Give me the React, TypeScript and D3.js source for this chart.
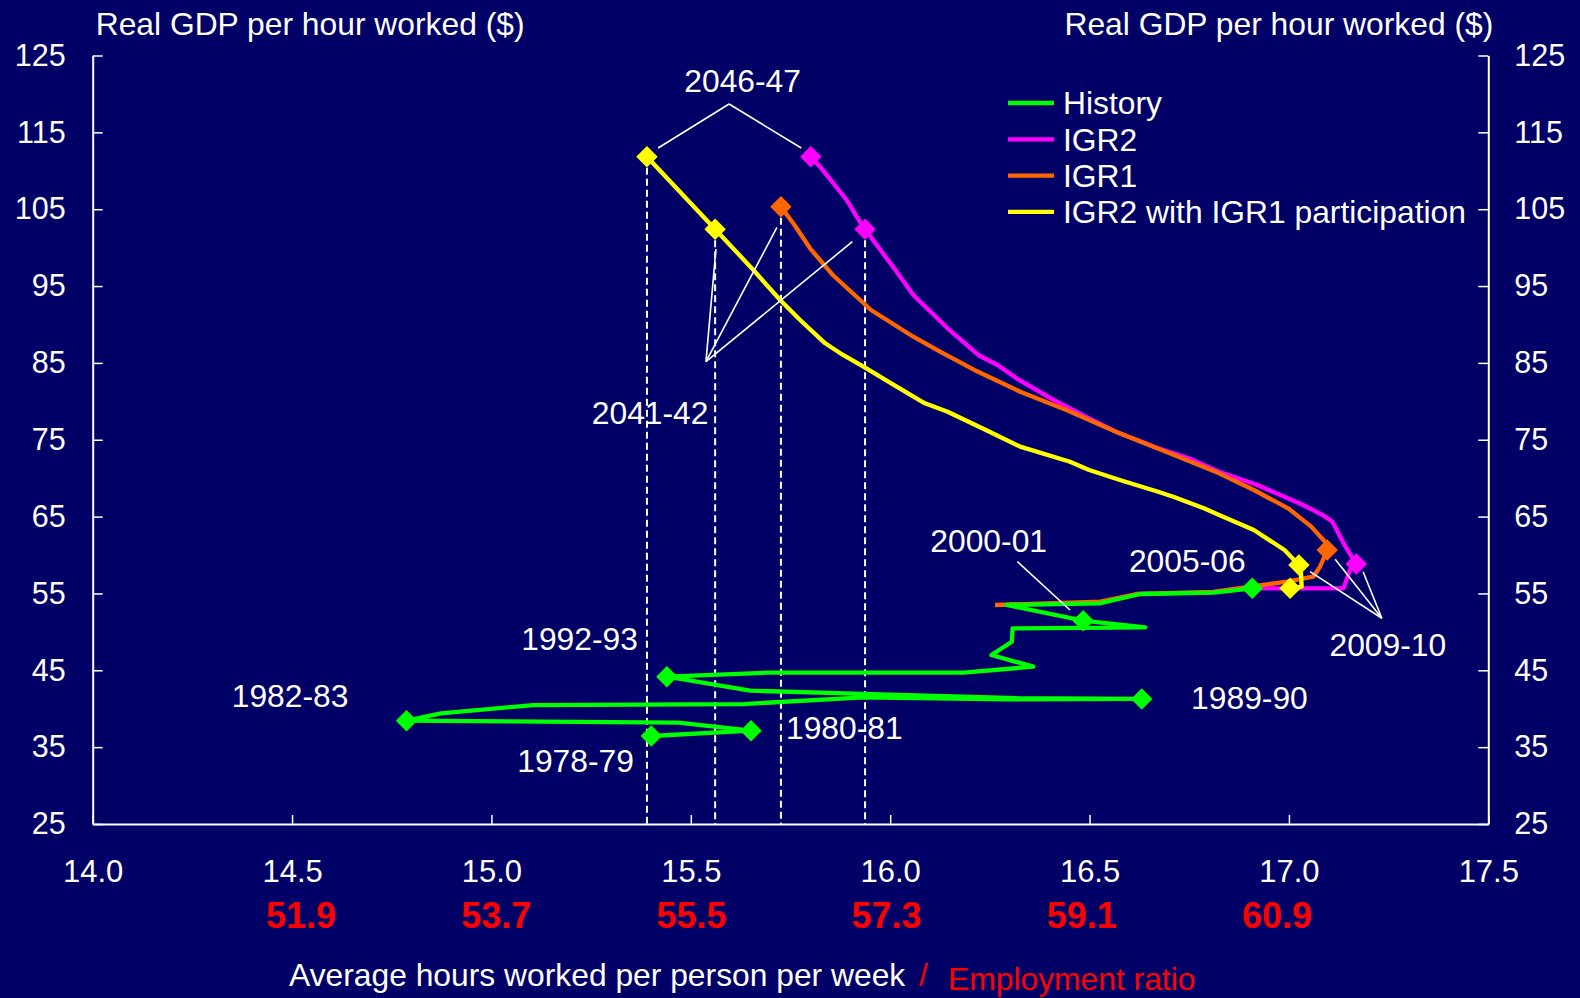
import { useEffect, useRef } from 'react';
import * as d3 from 'd3';

type Pt = [number, number]; // [average hours per person per week, real GDP per hour worked]

const FONT = '"Liberation Sans", Arial, sans-serif';
const BG = '#000066';

const hourTicks = [14.0, 14.5, 15.0, 15.5, 16.0, 16.5, 17.0, 17.5];
const gdpTicks = [25, 35, 45, 55, 65, 75, 85, 95, 105, 115, 125];
const employmentTicks = [51.9, 53.7, 55.5, 57.3, 59.1, 60.9];

// History, 1978-79 to 2005-06
const history: Pt[] = [
  [15.401, 36.45], // 1978-79
  [15.651, 37.14], // 1980-81
  [15.469, 38.18],
  [14.787, 38.44], // 1982-83
  [14.874, 39.4],
  [15.104, 40.48],
  [15.632, 40.61],
  [15.933, 41.49],
  [16.292, 41.23],
  [16.631, 41.27], // 1989-90
  [16.318, 41.36],
  [15.933, 41.92],
  [15.649, 42.35],
  [15.44, 44.17], // 1992-93
  [15.69, 44.69],
  [16.184, 44.69],
  [16.359, 45.47],
  [16.254, 46.99],
  [16.305, 48.72],
  [16.307, 50.46],
  [16.64, 50.59],
  [16.484, 51.46], // 2000-01
  [16.292, 53.5],
  [16.525, 53.72],
  [16.627, 54.93],
  [16.811, 55.1],
  [16.908, 55.67], // 2005-06
];
const historyMarkers = [0, 1, 3, 9, 13, 21, 26];

// IGR2 projection
const igr2: Pt[] = [
  [16.908, 55.67],
  [17.137, 55.67],
  [17.153, 58.05],
  [17.169, 58.83], // 2009-10
  [17.142, 61.08],
  [17.109, 64.34],
  [17.085, 65.2],
  [17.036, 66.5],
  [16.921, 69.11],
  [16.825, 70.84],
  [16.749, 72.59],
  [16.672, 73.89],
  [16.566, 76.05],
  [16.499, 77.79],
  [16.403, 80.39],
  [16.317, 82.99],
  [16.269, 84.73],
  [16.221, 86.03],
  [16.144, 89.5],
  [16.058, 93.84],
  [16.01, 97.31],
  [15.937, 102.38], // 2041-42
  [15.916, 104.03],
  [15.891, 106.2],
  [15.824, 110.53],
  [15.801, 111.83], // 2046-47
];
const igr2Markers = [3, 21, 25];

// IGR1 projection
const igr1: Pt[] = [
  [16.263, 53.5],
  [16.527, 53.93],
  [16.618, 54.93],
  [16.81, 55.2],
  [16.995, 56.53],
  [17.061, 57.18],
  [17.078, 58.48],
  [17.096, 60.65], // 2009-10
  [17.094, 61.53],
  [17.056, 63.69],
  [16.998, 66.08],
  [16.912, 68.46],
  [16.825, 70.63],
  [16.701, 73.24],
  [16.566, 76.05],
  [16.442, 78.87],
  [16.326, 81.25],
  [16.211, 84.08],
  [16.125, 86.46],
  [16.058, 88.41],
  [15.952, 91.88],
  [15.856, 96.44],
  [15.799, 99.91],
  [15.76, 102.94],
  [15.726, 105.33], // 2041-42
];
const igr1Markers = [7, 24];

// IGR2 with IGR1 participation
const igr2Part: Pt[] = [
  [17.003, 55.67],
  [17.032, 55.88],
  [17.03, 57.83],
  [17.025, 58.7], // 2009-10
  [16.989, 60.65],
  [16.912, 63.26],
  [16.825, 65.21],
  [16.787, 66.08],
  [16.71, 67.59],
  [16.672, 68.24],
  [16.576, 69.76],
  [16.499, 71.06],
  [16.451, 72.14],
  [16.326, 74.1],
  [16.24, 76.27],
  [16.144, 78.65],
  [16.087, 79.74],
  [16.01, 82.12],
  [15.933, 84.51],
  [15.875, 86.25],
  [15.837, 87.55],
  [15.774, 90.58],
  [15.724, 93.18],
  [15.657, 97.09],
  [15.561, 102.38], // 2041-42
  [15.39, 111.83], // 2046-47
];
const igr2PartMarkers = [0, 3, 24, 25];

// dashed drop lines: [series, point index]
const dropLines: [Pt[], number][] = [
  [igr2Part, 25],
  [igr2Part, 24],
  [igr1, 24],
  [igr2, 21],
];

// pointer lines: apex and the points it fans out to
const pointers: { apex: Pt; ends: Pt[] }[] = [
  { apex: [15.596, 118.69], ends: [[15.418, 112.96], [15.777, 112.96]] },
  { apex: [15.538, 85.16], ends: [[15.563, 99.82], [15.716, 102.64], [15.905, 100.77]] },
  { apex: [17.233, 51.77], ends: [[17.053, 57.83], [17.116, 59.44], [17.186, 57.83]] },
  { apex: [16.319, 59.13], ends: [[16.451, 52.85]] },
];

const yearLabels: { text: string; at: Pt }[] = [
  { text: '2046-47', at: [15.63, 121.73] },
  { text: '2041-42', at: [15.398, 78.48] },
  { text: '2009-10', at: [17.248, 48.29] },
  { text: '2000-01', at: [16.247, 61.82] },
  { text: '2005-06', at: [16.745, 59.22] },
  { text: '1992-93', at: [15.221, 49.07] },
  { text: '1982-83', at: [14.495, 41.75] },
  { text: '1989-90', at: [16.901, 41.49] },
  { text: '1980-81', at: [15.885, 37.56] },
  { text: '1978-79', at: [15.211, 33.22] },
];

const seriesNames = ['History', 'IGR2', 'IGR1', 'IGR2 with IGR1 participation'];
const seriesColors = ['#00ff00', '#ff00ff', '#ff6600', '#ffff00'];

export default function App() {
  const svgRef = useRef<SVGSVGElement>(null);
  const width = 1580;
  const height = 998;

  useEffect(() => {
    document.body.style.margin = '0';
    document.body.style.background = BG;
    if (!svgRef.current) return;

    const svg = d3.select(svgRef.current);
    svg.selectAll('*').remove();

    svg.append('rect').attr('width', width).attr('height', height).attr('fill', BG);

    const x = d3.scaleLinear().domain([14, 17.5]).range([92.7, 1488.3]);
    const y = d3.scaleLinear().domain([25, 125]).range([824, 55.5]);
    const emp = d3.scaleLinear()
      .domain([employmentTicks[0], employmentTicks[employmentTicks.length - 1]])
      .range([x(14.5) + 9, x(17.0) - 12]);

    const styleAxis = (g: d3.Selection<SVGGElement, unknown, null, undefined>, size: number) => {
      g.attr('font-family', FONT).attr('font-size', size);
      g.select('.domain').attr('stroke', '#fff').attr('stroke-width', 2);
      g.selectAll('.tick line').attr('stroke', '#fff').attr('stroke-width', 1.5);
      g.selectAll('.tick text').attr('fill', '#fff');
    };

    // Axes
    const gx = svg.append('g')
      .attr('transform', `translate(0,${y(25)})`)
      .call(d3.axisBottom(x).tickValues(hourTicks).tickSizeInner(-9).tickSizeOuter(0).tickFormat(d3.format('.1f')));
    styleAxis(gx, 31);
    gx.selectAll('.tick text').attr('y', 58).attr('dy', null);

    const gl = svg.append('g')
      .attr('transform', `translate(${x(14)},0)`)
      .call(d3.axisLeft(y).tickValues(gdpTicks).tickSizeInner(-10).tickSizeOuter(0).tickPadding(27).tickFormat(d3.format('d')));
    styleAxis(gl, 30.5);

    const gr = svg.append('g')
      .attr('transform', `translate(${x(17.5)},0)`)
      .call(d3.axisRight(y).tickValues(gdpTicks).tickSizeInner(-10).tickSizeOuter(0).tickPadding(26).tickFormat(d3.format('d')));
    styleAxis(gr, 30.5);

    // Employment ratio labels
    svg.append('g').selectAll('text')
      .data(employmentTicks)
      .enter().append('text')
      .attr('x', d => emp(d))
      .attr('y', 928)
      .attr('text-anchor', 'middle')
      .attr('fill', '#ff0000')
      .attr('font-family', FONT)
      .attr('font-weight', 'bold')
      .attr('font-size', 36)
      .text(d => d3.format('.1f')(d));

    // Axis titles
    const txt = (tx: number, ty: number, s: string, anchor = 'start', fill = '#fff', size = 31.8) =>
      svg.append('text')
        .attr('x', tx).attr('y', ty)
        .attr('text-anchor', anchor)
        .attr('fill', fill)
        .attr('font-family', FONT)
        .attr('font-size', size)
        .text(s);

    txt(x(14) + 3, 35, 'Real GDP per hour worked ($)');
    txt(x(17.5) + 5, 35, 'Real GDP per hour worked ($)', 'end');
    txt(289, 986, 'Average hours worked per person per week');
    txt(919, 986, '/', 'start', '#ff0000');
    txt(948, 990, 'Employment ratio', 'start', '#ff0000');

    // Dashed drop lines
    svg.append('g').selectAll('line')
      .data(dropLines)
      .enter().append('line')
      .attr('x1', d => x(d[0][d[1]][0]))
      .attr('x2', d => x(d[0][d[1]][0]))
      .attr('y1', d => y(d[0][d[1]][1]) + 11)
      .attr('y2', y(25))
      .attr('stroke', '#fff')
      .attr('stroke-width', 2)
      .attr('stroke-dasharray', '7,4');

    // Series lines
    const line = d3.line<Pt>().x(d => x(d[0])).y(d => y(d[1]));
    const series: { pts: Pt[]; color: string; markers: number[] }[] = [
      { pts: igr2, color: seriesColors[1], markers: igr2Markers },
      { pts: igr1, color: seriesColors[2], markers: igr1Markers },
      { pts: history, color: seriesColors[0], markers: historyMarkers },
      { pts: igr2Part, color: seriesColors[3], markers: igr2PartMarkers },
    ];

    series.forEach(s => {
      svg.append('path')
        .datum(s.pts)
        .attr('fill', 'none')
        .attr('stroke', s.color)
        .attr('stroke-width', 4.3)
        .attr('stroke-linejoin', 'round')
        .attr('d', line);
    });

    // Pointer lines
    const pg = svg.append('g');
    pointers.forEach(p => {
      pg.selectAll(null)
        .data(p.ends)
        .enter().append('line')
        .attr('x1', x(p.apex[0]))
        .attr('y1', y(p.apex[1]))
        .attr('x2', d => x(d[0]))
        .attr('y2', d => y(d[1]))
        .attr('stroke', '#fff')
        .attr('stroke-width', 1.6);
    });

    // Diamond markers
    const diamond = d3.symbol().type(d3.symbolSquare).size(230);
    series.forEach(s => {
      svg.append('g').selectAll('path')
        .data(s.markers.map(i => s.pts[i]))
        .enter().append('path')
        .attr('d', diamond)
        .attr('transform', d => `translate(${x(d[0])},${y(d[1])}) rotate(45)`)
        .attr('fill', s.color);
    });

    // Year labels
    svg.append('g').selectAll('text')
      .data(yearLabels)
      .enter().append('text')
      .attr('x', d => x(d.at[0]))
      .attr('y', d => y(d.at[1]))
      .attr('dy', '0.36em')
      .attr('text-anchor', 'middle')
      .attr('fill', '#fff')
      .attr('font-family', FONT)
      .attr('font-size', 31.8)
      .text(d => d.text);

    // Legend
    const legend = svg.append('g').attr('transform', 'translate(1008,103)');
    seriesNames.forEach((name, i) => {
      const item = legend.append('g').attr('transform', `translate(0,${i * 36.3})`);
      item.append('line')
        .attr('x1', 0).attr('x2', 46)
        .attr('stroke', seriesColors[i])
        .attr('stroke-width', 4.3);
      item.append('text')
        .attr('x', 55)
        .attr('dy', '0.36em')
        .attr('fill', '#fff')
        .attr('font-family', FONT)
        .attr('font-size', 31.8)
        .text(name);
    });
  }, []);

  return <svg ref={svgRef} width={width} height={height} style={{ display: 'block' }} />;
}
